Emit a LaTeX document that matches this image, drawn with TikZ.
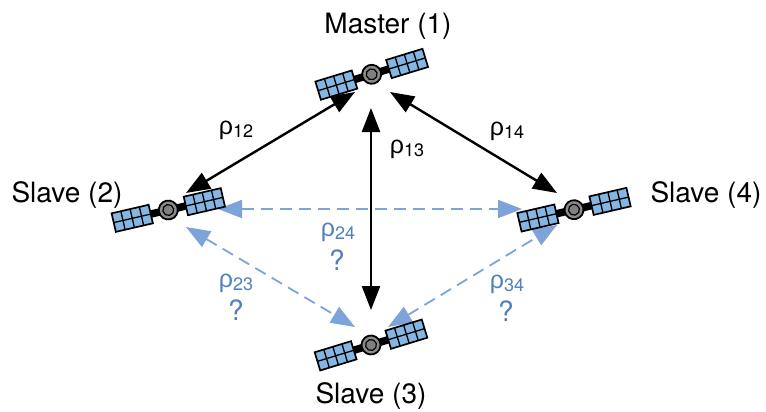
\documentclass[tikz,border=0pt]{standalone}
\usepackage{fontspec}
\setmainfont{TeX Gyre Heros}
\newfontfamily\rhofont{Liberation Sans}
\usetikzlibrary{arrows.meta}

\definecolor{panelblue}{HTML}{85B6E3}
\definecolor{linkblue}{HTML}{7CA4D9}
\definecolor{textblue}{HTML}{4F81BD}

\tikzset{
  satname/.style={font=\fontsize{28}{32}\selectfont},
  rho/.style={font=\fontsize{25}{28}\selectfont},
  rhoblue/.style={rho,text=textblue},
  query/.style={font=\fontsize{28}{32}\selectfont,text=textblue},
  known/.style={line width=2.4pt,{Triangle[length=24pt,width=18pt]}-{Triangle[length=24pt,width=18pt]}},
  unknown/.style={line width=1.8pt,linkblue,dash pattern=on 12pt off 7pt,{Triangle[length=24pt,width=18pt]}-{Triangle[length=24pt,width=18pt]}},
  pics/sat/.style={code={
    \draw[line width=7.5pt] (-20,0) -- (20,0);
    \foreach \s in {-56,18}{
      \begin{scope}[shift={(\s,-9.5)}]
        \fill[panelblue] (0,0) rectangle (38,19);
        \foreach \g in {9.5,19,28.5}
          \draw[line width=1.3pt] (\g,0) -- (\g,19);
        \draw[line width=1.3pt] (0,9.5) -- (38,9.5);
        \draw[line width=1.7pt] (0,0) rectangle (38,19);
      \end{scope}
    }
    \draw[line width=1.8pt,fill=gray!90] (0,0) circle (9.5);
    \draw[line width=1.2pt,fill=gray] (0,0) circle (5.5);
  }}
}

\newcommand{\rhotxt}[1]{{\rhofont ρ}\raisebox{-0.12em}{\fontsize{18}{20}\selectfont #1}}

\begin{document}
\begin{tikzpicture}[x=1pt,y=-1pt]
  \useasboundingbox (0,0) rectangle (766,412);

  % satellites
  \coordinate (master) at (371.7,74.3);
  \coordinate (slaveB) at (168.3,210);
  \coordinate (slaveC) at (371,345);
  \coordinate (slaveD) at (574,209.7);

  % bouts des fleches
  \coordinate (mB) at (355,92);
  \coordinate (bM) at (186,193);
  \coordinate (mC) at (371,108);
  \coordinate (cM) at (371,310);
  \coordinate (mD) at (390,92);
  \coordinate (dM) at (557,193);
  \coordinate (bD) at (218,209);
  \coordinate (dB) at (522,209);
  \coordinate (bC) at (186,227);
  \coordinate (cB) at (355,327);
  \coordinate (cD) at (388,327);
  \coordinate (dC) at (557,225);

  \draw[known] (mB) -- (bM);
  \draw[known] (mC) -- (cM);
  \draw[known] (mD) -- (dM);
  \draw[unknown] (bD) -- (dB);
  \draw[unknown] (bC) -- (cB);
  \draw[unknown] (cD) -- (dC);

  \pic[rotate=17] at (master) {sat};
  \pic[rotate=13] at (slaveB) {sat};
  \pic[rotate=17] at (slaveC) {sat};
  \pic[rotate=13] at (slaveD) {sat};

  \node[satname] (lblM) at (388,26) {Master (1)};
  \node[satname] (lblB) at (67,195) {Slave (2)};
  \node[satname] (lblC) at (371,396) {Slave (3)};
  \node[satname] (lblD) at (706,195) {Slave (4)};

  \node[rho] (r12) at (236,130) {\rhotxt{12}};
  \node[rho] (r13) at (407,149) {\rhotxt{13}};
  \node[rho] (r14) at (507,131) {\rhotxt{14}};
  \node[rhoblue] (r24) at (338,232) {\rhotxt{24}};
  \node[rhoblue] (r23) at (236,283) {\rhotxt{23}};
  \node[rhoblue] (r34) at (507,284) {\rhotxt{34}};
  \node[query] (q24) at (337,260) {?};
  \node[query] (q23) at (236,310) {?};
  \node[query] (q34) at (506,311) {?};
\end{tikzpicture}
\end{document}
